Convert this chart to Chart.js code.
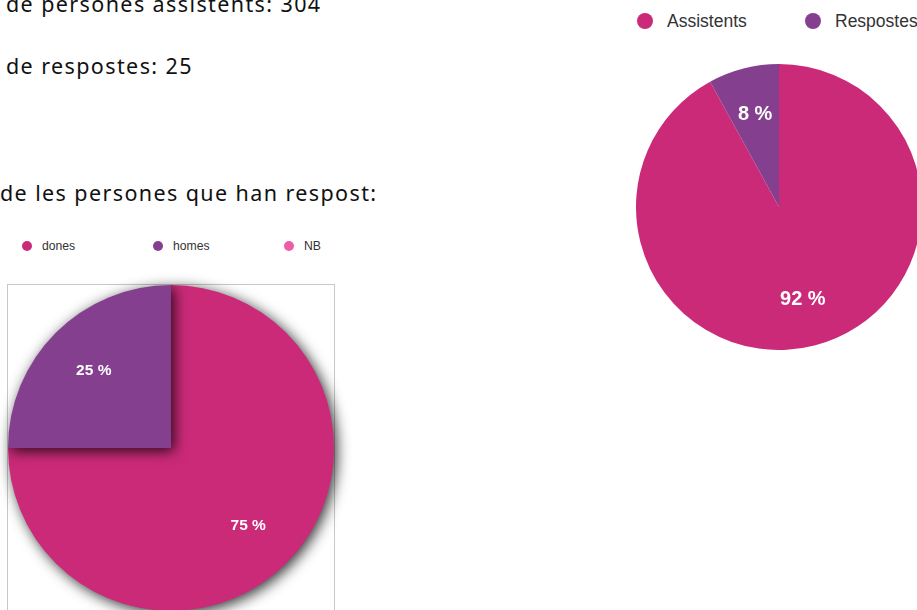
<!DOCTYPE html>
<html lang="ca">
<head>
  <meta charset="UTF-8">
  <title>Assistents i respostes</title>
  <script src="https://cdn.jsdelivr.net/npm/chart.js"></script>
  <style>
    html, body {
      margin: 0;
      padding: 0;
      width: 917px;
      height: 610px;
      overflow: hidden;
      background: #fff;
      font-family: "Noto Sans", sans-serif;
      color: #111;
    }
    .line {
      position: absolute;
      font-size: 21.5px;
      letter-spacing: 1.4px;
      line-height: normal;
      white-space: nowrap;
    }
    .legend {
      position: absolute;
      display: flex;
      font-family: "Liberation Sans", Arial, sans-serif;
      color: #333;
    }
    .legend .item {
      display: flex;
      align-items: center;
    }
    .legend .dot {
      border-radius: 50%;
      display: inline-block;
      flex: none;
    }
    .frame {
      position: absolute;
      left: 7px;
      top: 284px;
      width: 326px;
      height: 400px;
      border: 1px solid #c8c8c8;
    }
    .chart {
      position: absolute;
    }
  </style>
</head>
<body>
  <div class="line" style="left:6px; top:-11px;">de persones assistents: 304</div>
  <div class="line" style="left:6px; top:51px;">de respostes: 25</div>
  <div class="line" style="left:0px; top:178px;">de les persones que han respost:</div>

  <div class="frame"></div>
  <div id="genderLegend" class="legend" style="left:22px; top:238px; font-size:12.2px; height:16px;"></div>
  <div class="chart" style="left:-12px; top:265px; width:366px; height:366px;">
    <canvas id="genderChart" width="366" height="366"></canvas>
  </div>

  <div id="answerLegend" class="legend" style="left:637px; top:10px; font-size:17.5px; height:22px;"></div>
  <div class="chart" style="left:636px; top:64px; width:286px; height:286px;">
    <canvas id="answerChart" width="286" height="286"></canvas>
  </div>

  <script>
    // data
    const genderLabels = ['dones', 'homes', 'NB'];
    const genderValues = [75, 25, 0];
    const genderColors = ['#CB2A79', '#84408F', '#EE5CA8'];

    const answerLabels = ['Assistents', 'Respostes'];
    const answerValues = [92, 8];
    const answerColors = ['#CB2A79', '#84408F'];

    // white percentage labels inside the slices
    const pctLabels = {
      id: 'pctLabels',
      afterDatasetsDraw(chart, args, opts) {
        const ctx = chart.ctx;
        const ds = chart.data.datasets[0];
        const total = ds.data.reduce((a, b) => a + b, 0);
        chart.getDatasetMeta(0).data.forEach((arc, i) => {
          const v = ds.data[i];
          if (!v) return;
          const mid = (arc.startAngle + arc.endAngle) / 2;
          const r = arc.outerRadius * 0.67;
          const x = arc.x + Math.cos(mid) * r;
          const y = arc.y + Math.sin(mid) * r;
          ctx.save();
          ctx.fillStyle = '#fff';
          ctx.font = 'bold ' + opts.size + 'px "Liberation Sans", Arial, sans-serif';
          ctx.textAlign = 'center';
          ctx.textBaseline = 'middle';
          ctx.fillText(Math.round(v / total * 100) + ' %', x, y);
          ctx.restore();
        });
      }
    };

    // soft drop shadow behind the slices
    const sliceShadow = {
      id: 'sliceShadow',
      beforeDatasetDraw(chart, args, opts) {
        if (!opts.blur) return;
        const ctx = chart.ctx;
        ctx.save();
        ctx.shadowColor = 'rgba(0,0,0,0.8)';
        ctx.shadowBlur = opts.blur;
        ctx.shadowOffsetX = 3;
        ctx.shadowOffsetY = 3;
      },
      afterDatasetDraw(chart, args, opts) {
        if (!opts.blur) return;
        chart.ctx.restore();
      }
    };

    function buildLegend(el, labels, colors, dot, gap, step) {
      labels.forEach((l, i) => {
        const item = document.createElement('div');
        item.className = 'item';
        item.style.width = step + 'px';
        const d = document.createElement('span');
        d.className = 'dot';
        d.style.width = dot + 'px';
        d.style.height = dot + 'px';
        d.style.background = colors[i];
        d.style.marginRight = gap + 'px';
        item.appendChild(d);
        item.appendChild(document.createTextNode(l));
        el.appendChild(item);
      });
    }

    function pieChart(id, labels, values, colors, pad, labelSize, blur) {
      return new Chart(document.getElementById(id), {
        type: 'pie',
        data: {
          labels: labels,
          datasets: [{
            data: values,
            backgroundColor: colors,
            borderWidth: 0
          }]
        },
        options: {
          responsive: false,
          animation: false,
          layout: { padding: pad },
          plugins: {
            legend: { display: false },
            tooltip: { enabled: false },
            pctLabels: { size: labelSize },
            sliceShadow: { blur: blur }
          }
        },
        plugins: [sliceShadow, pctLabels]
      });
    }

    buildLegend(document.getElementById('genderLegend'), genderLabels, genderColors, 10, 10, 131);
    buildLegend(document.getElementById('answerLegend'), answerLabels, answerColors, 16, 14, 168);

    pieChart('genderChart', genderLabels, genderValues, genderColors, 20, 15.5, 14);
    pieChart('answerChart', answerLabels, answerValues, answerColors, 0, 20, 0);
  </script>
</body>
</html>
